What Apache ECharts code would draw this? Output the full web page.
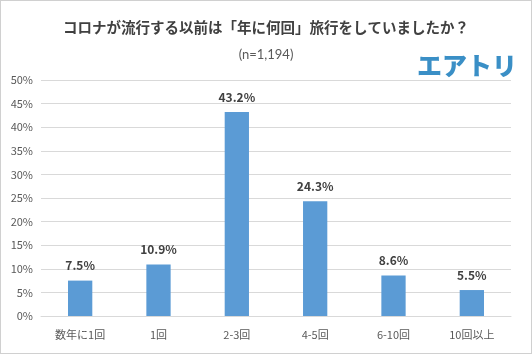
<!DOCTYPE html>
<html><head><meta charset="utf-8">
<script src="https://cdn.jsdelivr.net/npm/echarts@6/dist/echarts.min.js"></script>
<style>html,body{margin:0;padding:0;background:#fff}#c{width:532px;height:354px;box-sizing:border-box;border:1px solid #d0d0d0}</style>
</head><body><div id="c"></div>
<script>
const categories = ['数年に1回', '1回', '2-3回', '4-5回', '6-10回', '10回以上'];
const values = [7.5, 10.9, 43.2, 24.3, 8.6, 5.5];
const titleText = 'コロナが流行する以前は「年に何回」旅行をしていましたか？';
const subtitleText = '(n=1,194)';
const logoText = 'エアトリ';
const font = '"Noto Sans CJK JP", "Noto Sans", sans-serif';
const chart = echarts.init(document.getElementById('c'), null, {renderer: 'canvas'});
chart.setOption({
  animation: false,
  textStyle: {fontFamily: font},
  title: [
    {text: titleText, left: 'center', top: 14, textStyle: {fontSize: 14.5, fontWeight: 'bold', color: '#404040', fontFamily: font}},
    {text: subtitleText, left: 'center', top: 42, textStyle: {fontSize: 13, fontWeight: 'normal', color: '#595959', fontFamily: 'Lato, "Noto Sans", sans-serif'}},
    {text: logoText, left: 411, top: 47, textStyle: {fontSize: 25, fontWeight: 900, color: '#3a8fc6', fontFamily: font}}
  ],
  grid: {left: 40, right: 20, top: 79, bottom: 37},
  xAxis: {
    type: 'category', data: categories,
    axisLine: {lineStyle: {color: '#d9d9d9'}},
    axisTick: {show: false},
    axisLabel: {color: '#595959', fontSize: 11, margin: 13, fontFamily: font}
  },
  yAxis: {
    type: 'value', min: 0, max: 50, interval: 5,
    axisLabel: {formatter: '{value}%', color: '#595959', fontSize: 11, margin: 8, fontFamily: font},
    splitLine: {lineStyle: {color: '#d9d9d9'}},
    axisLine: {show: false}, axisTick: {show: false}
  },
  series: [{
    type: 'bar', data: values, barWidth: '31%',
    itemStyle: {color: '#5b9bd5'},
    label: {show: true, position: 'top', distance: 9, formatter: p => p.value.toFixed(1) + '%', fontSize: 12, fontWeight: 'bold', color: '#404040', fontFamily: font}
  }]
});
</script></body></html>
